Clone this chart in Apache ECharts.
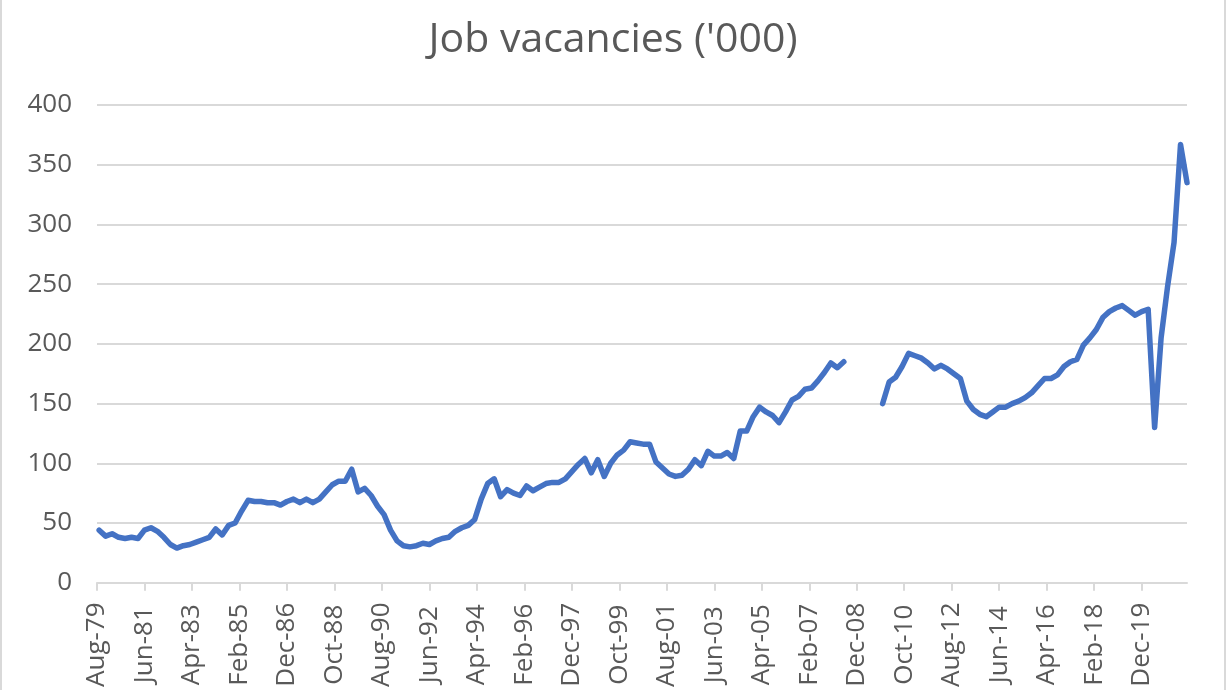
<!DOCTYPE html>
<html>
<head>
<meta charset="utf-8">
<script src="https://cdn.jsdelivr.net/npm/echarts@6/dist/echarts.min.js"></script>
<style>
html,body{margin:0;padding:0;background:#fff;}
#wrap{position:relative;width:1226px;height:690px;overflow:hidden;}
#chart{width:1226px;height:690px;}
#frame{position:absolute;left:0;top:0;width:1226px;height:690px;box-sizing:border-box;border-left:2px solid #d9d9d9;border-right:2px solid #d9d9d9;pointer-events:none;}
</style>
</head>
<body>
<div id="wrap"><div id="chart"></div><div id="frame"></div></div>
<script>
// ---- data ----
const titleText = "Job vacancies ('000)";
// x-axis tick labels, one every 22 months starting Aug-79
const xTickLabels = ['Aug-79','Jun-81','Apr-83','Feb-85','Dec-86','Oct-88','Aug-90','Jun-92','Apr-94','Feb-96','Dec-97','Oct-99','Aug-01','Jun-03','Apr-05','Feb-07','Dec-08','Oct-10','Aug-12','Jun-14','Apr-16','Feb-18','Dec-19'];
const monthsBetweenLabels = 22;
const monthsPerQuarter = 3;
const axisMonths = 505;           // Aug-79 .. Aug-21
// quarterly job vacancies ('000), Aug-79 .. Aug-21; null = survey suspended
const vacancies = [
  44,39,41,38,37,38,37,44,46,43,
  38,32,29,31,32,34,36,38,45,40,
  48,50,60,69,68,68,67,67,65,68,
  70,67,70,67,70,76,82,85,85,95,
  76,79,73,64,57,44,35,31,30,31,
  33,32,35,37,38,43,46,48,53,70,
  83,87,72,78,75,73,81,77,80,83,
  84,84,87,93,99,104,92,103,89,100,
  107,111,118,117,116,116,101,96,91,89,
  90,95,103,98,110,106,106,109,104,127,
  127,139,147,143,140,134,143,153,156,162,
  163,169,176,184,180,185,null,null,null,null,
  null,150,168,172,181,192,190,188,184,179,
  182,179,175,171,152,145,141,139,143,147,
  147,150,152,155,159,165,171,171,174,181,
  185,187,199,205,212,222,227,230,232,228,
  224,227,229,130,205,248,285,367,335
];
const yMin = 0, yMax = 400, yStep = 50;

// ---- build ----
const tickMonths = xTickLabels.map((_, i) => i * monthsBetweenLabels);
const labelByMonth = {};
tickMonths.forEach((m, i) => { labelByMonth[m] = xTickLabels[i]; });
const seriesData = vacancies.map((v, i) => [i * monthsPerQuarter + 1, v == null ? '-' : v]);

const font = "'Open Sans', 'Liberation Sans', sans-serif";
const grey = '#595959';
const lineGrey = '#d9d9d9';

const chart = echarts.init(document.getElementById('chart'), null, {renderer: 'canvas'});
chart.setOption({
  animation: false,
  backgroundColor: '#ffffff',
  title: {
    text: titleText,
    left: 'center',
    top: 16,
    padding: 0,
    textStyle: {fontSize: 41, fontWeight: 'normal', color: grey, fontFamily: font, lineHeight: 48}
  },
  grid: {left: 97, right: 39, top: 105, bottom: 106, containLabel: false},
  xAxis: {
    type: 'value',
    min: 0,
    max: axisMonths,
    splitLine: {show: false},
    axisLine: {show: true, lineStyle: {color: lineGrey, width: 2}},
    axisTick: {show: true, customValues: tickMonths, length: 8, lineStyle: {color: lineGrey, width: 2}},
    axisLabel: {
      customValues: tickMonths,
      formatter: v => labelByMonth[v] || '',
      rotate: 90,
      margin: 62,
      align: 'center',
      verticalAlign: 'middle',
      color: grey,
      fontSize: 26,
      fontFamily: font
    }
  },
  yAxis: {
    type: 'value',
    min: yMin,
    max: yMax,
    interval: yStep,
    axisLine: {show: false},
    axisTick: {show: false},
    splitLine: {lineStyle: {color: lineGrey, width: 2}},
    axisLabel: {color: grey, fontSize: 26, fontFamily: font, margin: 25}
  },
  series: [{
    type: 'line',
    data: seriesData,
    showSymbol: false,
    connectNulls: false,
    clip: false,
    lineStyle: {color: '#4472C4', width: 5.5, cap: 'round', join: 'round'},
    z: 5
  }]
});
</script>
</body>
</html>
